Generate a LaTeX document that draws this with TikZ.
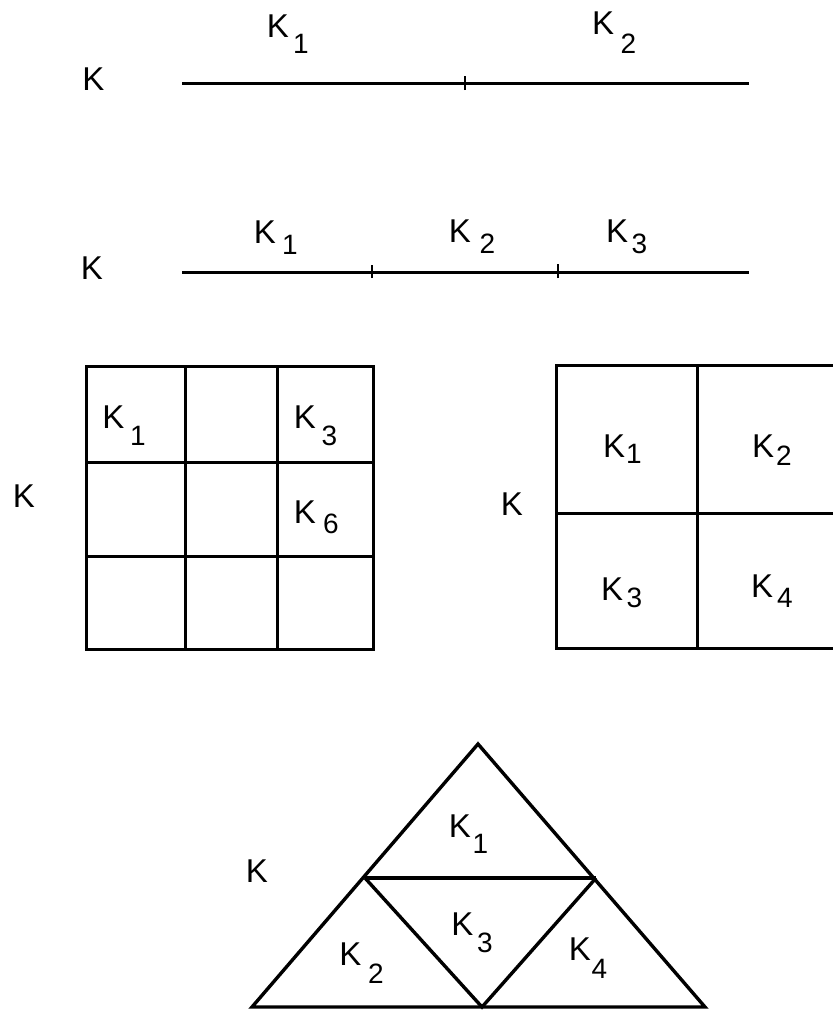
\documentclass[tikz,border=0pt]{standalone}
\usepackage{fontspec}
\setmainfont{Liberation Sans}
\begin{document}
\begin{tikzpicture}[x=1pt,y=-1pt,
  ktext/.style={font=\fontsize{33}{33}\selectfont, inner sep=0pt, anchor=base},
  subtext/.style={font=\fontsize{28}{28}\selectfont, inner sep=0pt, anchor=base},
  seg/.style={line width=3pt},
  tickmark/.style={line width=2.6pt},
  cell/.style={line width=3pt},
  tri/.style={line width=3.4pt, line join=miter}]
\useasboundingbox (0,0) rectangle (833,1010);
\clip (0,0) rectangle (833,1010);

% ---- line 1 ----
\coordinate (a1) at (182,83);
\coordinate (a2) at (749,83);
\coordinate (at) at (465,83);
\draw[seg] (a1) -- (a2);
\draw[tickmark] ([yshift=-7pt]at) -- ([yshift=7pt]at);
\node[ktext] (LK) at (93.5,90) {K};
\node[ktext] (L1K1) at (278,37) {K};
\node[subtext] (L1K1s) at (301,53) {1};
\node[ktext] (L1K2) at (603,34) {K};
\node[subtext] (L1K2s) at (628.5,53) {2};

% ---- line 2 ----
\coordinate (b1) at (182,272);
\coordinate (b2) at (749,272);
\coordinate (bt1) at (372,272);
\coordinate (bt2) at (558,272);
\draw[seg] (b1) -- (b2);
\draw[tickmark] ([yshift=-6pt]bt1) -- ([yshift=7pt]bt1);
\draw[tickmark] ([yshift=-6pt]bt2) -- ([yshift=8pt]bt2);
\node[ktext] (L2K) at (92,279) {K};
\node[ktext] (L2K1) at (265,243) {K};
\node[subtext] (L2K1s) at (290,254) {1};
\node[ktext] (L2K2) at (460,242) {K};
\node[subtext] (L2K2s) at (487.5,253) {2};
\node[ktext] (L2K3) at (617,242) {K};
\node[subtext] (L2K3s) at (639.5,253) {3};

% ---- 3x3 grid ----
\draw[cell] (86,366) rectangle (373,649);
\draw[cell] (185,366) -- (185,649);
\draw[cell] (277,366) -- (277,649);
\draw[cell] (86,462) -- (373,462);
\draw[cell] (86,556) -- (373,556);
\node[ktext] (G1K) at (24,507) {K};
\node[ktext] (G1K1) at (113.5,428) {K};
\node[subtext] (G1K1s) at (138,445) {1};
\node[ktext] (G1K3) at (305,428) {K};
\node[subtext] (G1K3s) at (329.5,445) {3};
\node[ktext] (G1K6) at (305,523) {K};
\node[subtext] (G1K6s) at (331,533) {6};

% ---- 2x2 grid ----
\draw[cell] (556,365) rectangle (840,648);
\draw[cell] (697,365) -- (697,648);
\draw[cell] (556,513) -- (840,513);
\node[ktext] (G2K) at (512,515) {K};
\node[ktext] (G2K1) at (614,457) {K};
\node[subtext] (G2K1s) at (634,463) {1};
\node[ktext] (G2K2) at (763,457) {K};
\node[subtext] (G2K2s) at (784,465) {2};
\node[ktext] (G2K3) at (612,600) {K};
\node[subtext] (G2K3s) at (634.5,607) {3};
\node[ktext] (G2K4) at (762,597) {K};
\node[subtext] (G2K4s) at (785,607) {4};

% ---- triangle ----
\coordinate (ta) at (478,744);
\coordinate (tml) at (365,878);
\coordinate (tmr) at (596,878);
\coordinate (tbl) at (252,1007);
\coordinate (tbm) at (482,1007);
\coordinate (tbr) at (705,1007);
\draw[tri] (tbl) -- (ta) -- (tbr) -- cycle;
\draw[tri] (tml) -- (tmr);
\draw[tri] (tml) -- (tbm) -- (tmr);
\node[ktext] (TK) at (257,882) {K};
\node[ktext] (TK1) at (460,837) {K};
\node[subtext] (TK1s) at (480.5,853) {1};
\node[ktext] (TK3) at (462.5,935) {K};
\node[subtext] (TK3s) at (485,952) {3};
\node[ktext] (TK2) at (350.5,965) {K};
\node[subtext] (TK2s) at (376,983) {2};
\node[ktext] (TK4) at (580,960) {K};
\node[subtext] (TK4s) at (599.5,978) {4};
\end{tikzpicture}
\end{document}
